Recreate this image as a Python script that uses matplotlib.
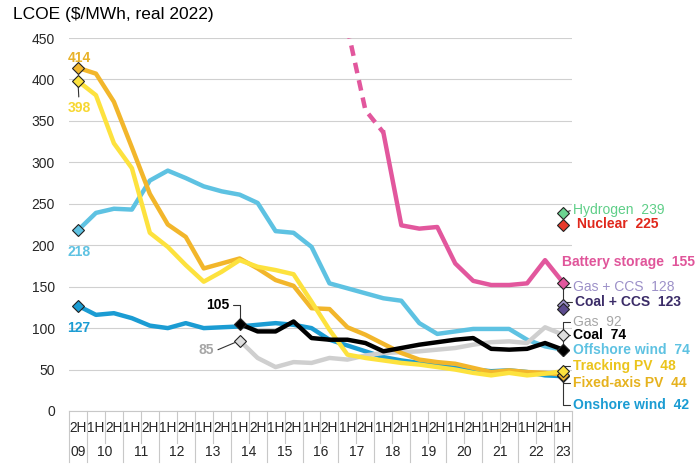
import numpy as np
import matplotlib
matplotlib.use("Agg")
import matplotlib.pyplot as plt
from matplotlib.transforms import blended_transform_factory

plt.rcParams['font.family'] = ['Liberation Sans', 'DejaVu Sans']

nan = np.nan

# Half-year periods, 2H09 .. 1H23
halves = ['2H'] + ['1H', '2H'] * 13 + ['1H']
years = ['09', '10', '11', '12', '13', '14', '15', '16', '17', '18', '19', '20', '21', '22', '23']

fixed_pv = [414, 407, 373, 318, 262, 225, 210, 172, 178, 184, 172, 158, 151, 124,
            123, 101, 92, 81, 70, 62, 59, 57, 52, 47, 49, 47, 46, 44]
tracking_pv = [398, 381, 323, 293, 215, 198, 176, 156, 168, 182, 174, 170, 165, 132,
               98, 68, 64, 61, 58, 56, 53, 50, 46, 43, 46, 43, 45, 48]
onshore = [127, 116, 118, 112, 103, 100, 106, 100, 101, 102, 104, 106, 104, 100,
           86, 79, 72, 65, 61, 58, 55, 52, 50, 48, 49, 47, 43, 42]
offshore = [218, 239, 244, 243, 278, 290, 281, 271, 265, 261, 251, 217, 215, 198,
            154, 148, 142, 136, 133, 106, 93, 96, 99, 99, 99, 86, 78, 74]
coal = [nan] * 9 + [105, 96, 96, 108, 88, 86, 86, 82, 72, 76, 80, 83, 86, 88,
                    75, 74, 75, 82, 74]
gas = [nan] * 9 + [85, 64, 53, 59, 58, 64, 62, 67, 70, 71, 72, 74, 76, 80,
                   83, 84, 82, 101, 92]
battery = [nan] * 15 + [462, 363, 336, 224, 220, 222, 178, 157, 152, 152, 154, 182, 155]

# single 1H23 points
hydrogen = 239
nuclear = 225
gas_ccs = 128
coal_ccs = 123

x = np.arange(len(halves))
last = x[-1]

fig = plt.figure(figsize=(7, 4.7), dpi=100)
ax = fig.add_axes([69 / 700, 59 / 470, 503 / 700, 373 / 470])

lw = 3.2
ax.plot(x, offshore, color='#5EC2E2', lw=lw, zorder=3)
ax.plot(x, onshore, color='#1B9CD3', lw=lw, zorder=3)
ax.plot(x, gas, color='#CFCFCF', lw=lw, zorder=3)
ax.plot(x, fixed_pv, color='#F2B62B', lw=lw, zorder=4)
ax.plot(x, tracking_pv, color='#FDE23E', lw=lw, zorder=4)
ax.plot(x, coal, color='#000000', lw=lw, zorder=5)
b = np.array(battery, dtype=float)
ax.plot(x[15:18], b[15:18], color='#E2579D', lw=lw, ls=(0, (2.4, 1.6)), zorder=4)
ax.plot(x[17:], b[17:], color='#E2579D', lw=lw, zorder=4)

mk = dict(marker='D', markersize=6.5, markeredgecolor='#222222', markeredgewidth=0.8,
          linestyle='none', zorder=6, clip_on=False)
# start markers
ax.plot(0, offshore[0], markerfacecolor='#5EC2E2', **mk)
ax.plot(0, onshore[0], markerfacecolor='#1B9CD3', **mk)
ax.plot(0, fixed_pv[0], markerfacecolor='#F2B62B', **mk)
ax.plot(0, tracking_pv[0], markerfacecolor='#FDE23E', **mk)
ax.plot(9, coal[9], markerfacecolor='#000000', **mk)
ax.plot(9, gas[9], markerfacecolor='#DDDDDD', **mk)
# end markers
ax.plot(last, hydrogen, markerfacecolor='#6CD391', **mk)
ax.plot(last, nuclear, markerfacecolor='#E8392B', **mk)
ax.plot(last, battery[-1], markerfacecolor='#E2579D', **mk)
ax.plot(last, gas_ccs, markerfacecolor='#9C90C8', **mk)
ax.plot(last, coal_ccs, markerfacecolor='#5C4B8E', **mk)
ax.plot(last, gas[-1], markerfacecolor='#DDDDDD', **mk)
ax.plot(last, offshore[-1], markerfacecolor='#5EC2E2', **mk)
ax.plot(last, coal[-1], markerfacecolor='#000000', **mk)
ax.plot(last, onshore[-1], markerfacecolor='#1B9CD3', **mk)
ax.plot(last, fixed_pv[-1], markerfacecolor='#F2B62B', **mk)
ax.plot(last, tracking_pv[-1], markerfacecolor='#FDE23E', **mk)

ax.set_xlim(-0.5, len(halves) - 0.5)
ax.set_ylim(0, 450)
ax.set_yticks(range(0, 451, 50))
ax.set_xticks([])
ax.tick_params(axis='y', length=0, pad=10, labelsize=10, labelcolor='#262626')
ax.grid(axis='y', color='#D0D0D0', lw=0.8)
ax.set_axisbelow(True)
for s in ['top', 'right', 'left']:
    ax.spines[s].set_visible(False)
ax.spines['bottom'].set_color('#C8C8C8')
ax.spines['bottom'].set_linewidth(0.8)

# category table under the axis
tr = blended_transform_factory(ax.transData, ax.transAxes)
sep = '#C8C8C8'
for i, h in enumerate(halves):
    ax.text(i, -0.046, h, transform=tr, ha='center', va='center', fontsize=9.8, color='#262626')
    yb = -0.137 if (h == '1H' or i == 0) else -0.086
    ax.plot([i - 0.5, i - 0.5], [0, yb], transform=tr, color=sep, lw=0.8, clip_on=False)
ax.plot([last + 0.5, last + 0.5], [0, -0.137], transform=tr, color=sep, lw=0.8, clip_on=False)
ypos = 0
for yr in years:
    n = 1 if yr in ('09', '23') else 2
    ax.text(ypos + (n - 1) / 2, -0.11, yr, transform=tr, ha='center', va='center',
            fontsize=10, color='#262626')
    ypos += n

fig.text(13 / 700, 1 - 15 / 470, 'LCOE ($/MWh, real 2022)', fontsize=12.5, va='center', ha='left')

lead = dict(arrowstyle='-', color='#333333', lw=0.8, shrinkA=0, shrinkB=3,
            connectionstyle='angle,angleA=0,angleB=90,rad=0')


def label(xv, yv, text, color, dx, dy, bold=True, leader=False, ha='left', relpos=(0, 0.5), arrow=None):
    kw = {}
    if leader:
        kw['arrowprops'] = dict(arrow or lead, relpos=relpos)
    ax.annotate(text, xy=(xv, yv), xytext=(dx, dy), textcoords='offset pixels',
                ha=ha, va='center', fontsize=10, color=color,
                fontweight='bold' if bold else 'normal', annotation_clip=False, **kw)


# right-side labels
label(last, hydrogen, f'Hydrogen  {hydrogen}', '#5FCF88', 10, 3, bold=False, leader=True,
      arrow=dict(arrowstyle='-', color='#333333', lw=0.8, shrinkA=0, shrinkB=3))
label(last, nuclear, f'Nuclear  {nuclear}', '#E0281C', 14, 0)
label(last, battery[-1], f'Battery storage  {battery[-1]}', '#E0559A', -1, 20.5)
label(last, gas_ccs, f'Gas + CCS  {gas_ccs}', '#9C90C8', 10, 18, bold=False, leader=True)
label(last, coal_ccs, f'Coal + CCS  {coal_ccs}', '#3B2C68', 12, 7, leader=True)
label(last, gas[-1], f'Gas  {gas[-1]}', '#A6A6A6', 10, 12.5, bold=False, leader=True)
label(last, coal[-1], f'Coal  {coal[-1]}', '#000000', 10, 14.5, leader=True)
label(last, offshore[-1], f'Offshore wind  {offshore[-1]}', '#5EC2E2', 10, 0)
label(last, tracking_pv[-1], f'Tracking PV  {tracking_pv[-1]}', '#EBC41C', 10, 5, leader=True)
label(last, fixed_pv[-1], f'Fixed-axis PV  {fixed_pv[-1]}', '#E6B21E', 10, -8.5, leader=True)
label(last, onshore[-1], f'Onshore wind  {onshore[-1]}', '#1B9CD3', 10, -29, leader=True)

# left-side labels
vlead = dict(arrowstyle='-', color='#333333', lw=0.8, shrinkA=1, shrinkB=4)
label(0, fixed_pv[0], f'{fixed_pv[0]}', '#E8B22A', 1, 10, ha='center')
label(0, tracking_pv[0], f'{tracking_pv[0]}', '#F7D730', 1, -27, ha='center', leader=True,
      relpos=(0.5, 1), arrow=vlead)
label(0, offshore[0], f'{offshore[0]}', '#5EC2E2', 1, -21.5, ha='center')
label(0, onshore[0], f'{onshore[0]}', '#1B9CD3', 1, -22, ha='center')
label(9, coal[9], f'{coal[9]}', '#000000', -21.5, 19, ha='center', leader=True,
      relpos=(1, 0.5), arrow=dict(lead, shrinkB=3))
label(9, gas[9], f'{gas[9]}', '#A6A6A6', -33.5, -9.5, ha='center', leader=True,
      relpos=(1, 0.4), arrow=vlead)

fig.savefig('out.png', dpi=100)
